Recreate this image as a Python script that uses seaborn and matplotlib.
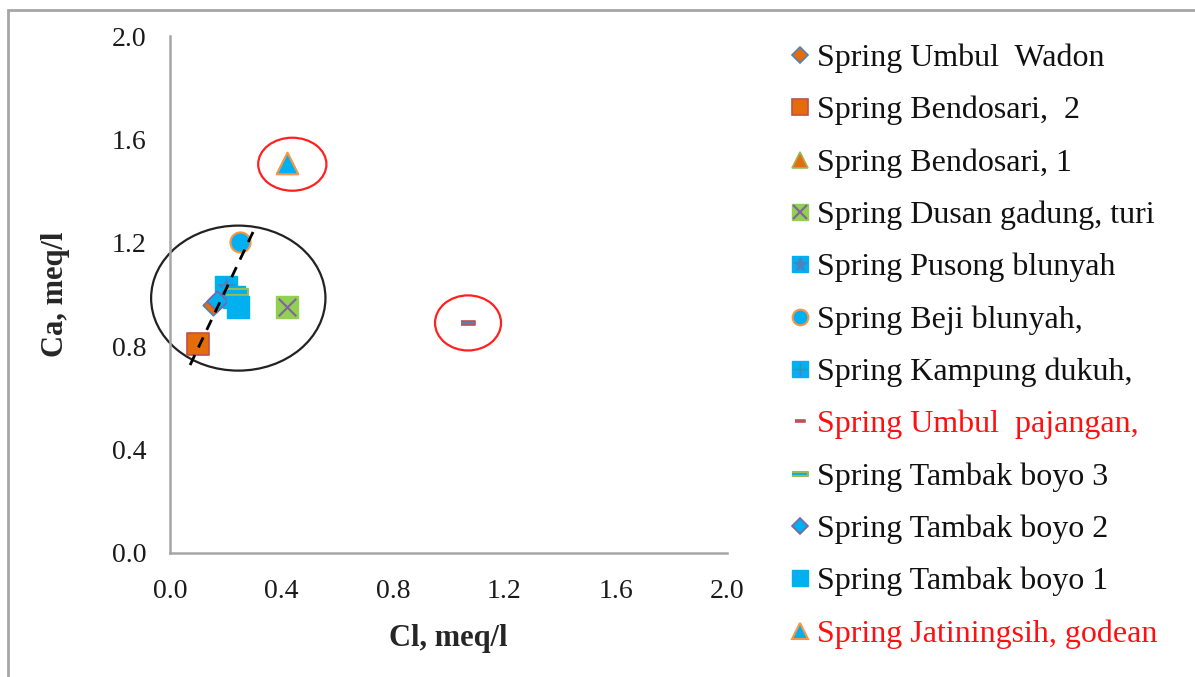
import matplotlib
matplotlib.use("Agg")
import matplotlib.pyplot as plt
from matplotlib.lines import Line2D
from matplotlib.patches import Ellipse, Rectangle
from matplotlib.legend_handler import HandlerTuple
import seaborn as sns
import pandas as pd

# Spring samples: chloride vs calcium (meq/l)
springs = [
    "Spring Umbul  Wadon",
    "Spring Bendosari,  2",
    "Spring Bendosari, 1",
    "Spring Dusan gadung, turi",
    "Spring Pusong blunyah",
    "Spring Beji blunyah,",
    "Spring Kampung dukuh,",
    "Spring Umbul  pajangan,",
    "Spring Tambak boyo 3",
    "Spring Tambak boyo 2",
    "Spring Tambak boyo 1",
    "Spring Jatiningsih, godean",
]
cl = [0.155, 0.10, 0.42, 0.42, 0.20, 0.25, 0.23, 1.07, 0.24, 0.17, 0.245, 0.42]
ca = [0.96, 0.81, 1.51, 0.95, 1.03, 1.205, 0.99, 0.89, 1.01, 0.975, 0.95, 1.51]
highlighted = ["Spring Umbul  pajangan,", "Spring Jatiningsih, godean"]

x_ticks = [0.0, 0.4, 0.8, 1.2, 1.6, 2.0]
y_ticks = [0.0, 0.4, 0.8, 1.2, 1.6, 2.0]

df = pd.DataFrame({"spring": springs, "Cl": cl, "Ca": ca})

ORANGE = "#E46C0A"
BLUE = "#00B0F0"
GREEN = "#92D050"
STEEL = "#4F81BD"
BRICK = "#C0504D"
PURPLE = "#8064A2"
LORANGE = "#F79646"

dash = [(-1, -0.28), (1, -0.28), (1, 0.28), (-1, 0.28)]

# one style per spring: list of overlaid marker layers (marker, size, face, edge, lw)
styles = {
    springs[0]: [("D", 110, ORANGE, STEEL, 1.2)],
    springs[1]: [("s", 230, ORANGE, BRICK, 1.2)],
    springs[2]: [("^", 240, ORANGE, "#9BBB59", 1.2)],
    springs[3]: [("s", 230, GREEN, GREEN, 1.0), ("x", 160, PURPLE, PURPLE, 1.5)],
    springs[4]: [("s", 230, BLUE, BLUE, 1.0), ("*", 160, STEEL, STEEL, 0.8)],
    springs[5]: [("o", 210, BLUE, LORANGE, 1.5)],
    springs[6]: [("s", 230, BLUE, BLUE, 1.0), ("+", 160, STEEL, STEEL, 1.0)],
    springs[7]: [(dash, 90, STEEL, BRICK, 1.2)],
    springs[8]: [(dash, 230, BLUE, "#9BBB59", 1.5)],
    springs[9]: [("D", 110, BLUE, PURPLE, 1.2)],
    springs[10]: [("s", 230, BLUE, BLUE, 1.0)],
    springs[11]: [("^", 240, BLUE, LORANGE, 1.5)],
}

sns.set_theme(style="white")
plt.rcParams["font.family"] = ["Liberation Serif", "DejaVu Serif"]

fig = plt.figure(figsize=(11.95, 6.77), dpi=100)
ax = fig.add_axes([0.1423, 0.1832, 0.4661, 0.7636])

handles = []
for name in springs:
    sub = df[df["spring"] == name]
    layer_handles = []
    for mk, s, fc, ec, lw in styles[name]:
        sns.scatterplot(data=sub, x="Cl", y="Ca", ax=ax, marker=mk, s=s,
                        color=fc, edgecolor=ec, linewidth=lw, legend=False,
                        zorder=3)
        layer_handles.append(Line2D([], [], linestyle="none", marker=mk,
                                    markersize=(s ** 0.5) * 0.78,
                                    markerfacecolor=fc, markeredgecolor=ec,
                                    markeredgewidth=lw))
    handles.append(tuple(layer_handles))

# grouping ellipses and trend line
for center, w, h, col in [((0.245, 0.986), 0.626, 0.561, "#222222"),
                          ((0.439, 1.504), 0.245, 0.205, "#FF2020"),
                          ((1.07, 0.89), 0.237, 0.213, "#FF2020")]:
    ax.add_patch(Ellipse(center, w, h, fill=False, edgecolor=col,
                         linewidth=1.6, zorder=2, clip_on=False))
ax.plot([0.072, 0.306], [0.727, 1.26], color="black", linestyle=(0, (4, 3)),
        linewidth=2.0, zorder=4)

ax.set_xlim(0, 2.0)
ax.set_ylim(0, 2.0)
ax.set_xticks(x_ticks)
ax.set_yticks(y_ticks)
ax.set_xticklabels([f"{v:.1f}" for v in x_ticks])
ax.set_yticklabels([f"{v:.1f}" for v in y_ticks])
ax.tick_params(axis="both", length=0, labelsize=20, colors="#1a1a1a")
ax.tick_params(axis="x", pad=19)
ax.tick_params(axis="y", pad=17)
for side in ["top", "right"]:
    ax.spines[side].set_visible(False)
for side in ["left", "bottom"]:
    ax.spines[side].set_color("#A6A6A6")
    ax.spines[side].set_linewidth(1.8)

ax.set_xlabel("Cl, meq/l", fontsize=22, fontweight="bold", labelpad=14)
ax.set_ylabel("Ca, meq/l", fontsize=22, fontweight="bold", labelpad=30)

leg = fig.legend(handles, springs, loc="upper left",
                 bbox_to_anchor=(0.648, 0.9545), frameon=False,
                 fontsize=23, handlelength=0.8, handletextpad=0.15,
                 labelspacing=0.715, borderaxespad=0,
                 handler_map={tuple: HandlerTuple(ndivide=1)})
for txt in leg.get_texts():
    if txt.get_text() in highlighted:
        txt.set_color("#FF1010")
    else:
        txt.set_color("#111111")

# outer frame
fig.patches.append(Rectangle((8 / 1195, -0.2), 1.2, 1.2 - 10 / 677,
                             transform=fig.transFigure, fill=False,
                             edgecolor="#A6A6A6", linewidth=2.0))

fig.savefig("out.png", dpi=100)
